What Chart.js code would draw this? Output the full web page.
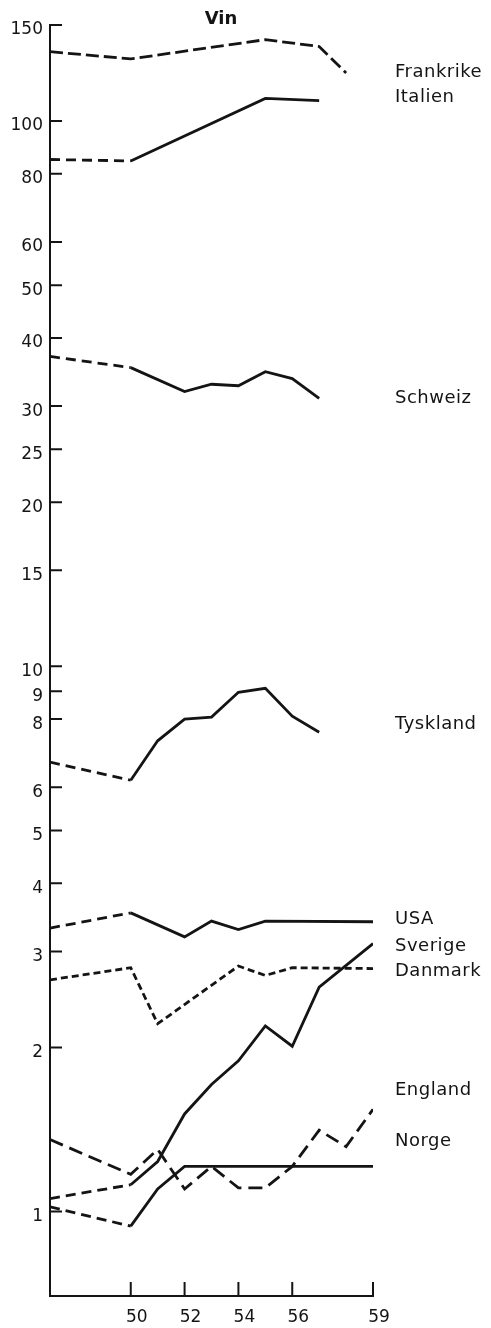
<!DOCTYPE html>
<html>
<head>
<meta charset="utf-8">
<script src="https://cdn.jsdelivr.net/npm/chart.js@4"></script>
<style>
  html, body { margin: 0; padding: 0; background: #fff; }
  #wrap { width: 491px; height: 1328px; position: relative; }
</style>
</head>
<body>
<div id="wrap"><canvas id="vin"></canvas></div>
<script>
// years 1947 .. 1959, null = no vertex read for that year
var years = [1947, 1948, 1949, 1950, 1951, 1952, 1953, 1954, 1955, 1956, 1957, 1958, 1959];

var frankrike = [134, null, null, 130, null, null, null, null, 141, null, 137, 122.5, null];
var italien   = [85, null, null, 84.5, null, null, null, null, 110, null, 109, null, null];
var schweiz   = [37, null, null, 35.3, null, 31.9, 32.9, 32.7, 34.7, 33.7, 31, null, null];
var tyskland  = [6.67, null, null, 6.18, 7.3, 8.0, 8.07, 8.96, 9.11, 8.1, 7.57, null, null];
var usa       = [3.31, null, null, 3.53, null, 3.19, 3.41, 3.29, 3.41, null, null, null, 3.40];
var sverige   = [1.056, null, null, 1.12, 1.235, 1.51, 1.71, 1.89, 2.19, 2.01, 2.58, null, 3.10];
var danmark   = [2.66, null, null, 2.80, 2.21, null, null, 2.82, 2.71, 2.80, null, null, 2.79];
var england   = [1.355, null, null, 1.17, 1.30, 1.10, 1.21, 1.105, 1.105, 1.21, 1.41, 1.315, 1.54];
var norge     = [1.02, null, null, 0.94, 1.10, 1.21, null, null, null, null, null, null, 1.21];

var names   = ["Frankrike", "Italien", "Schweiz", "Tyskland", "USA", "Sverige", "Danmark", "England", "Norge"];
var labelAt = [123, 110.6, 31, 7.83, 3.44, 3.07, 2.76, 1.666, 1.344];

var yTicks = [1, 2, 3, 4, 5, 6, 8, 9, 10, 15, 20, 25, 30, 40, 50, 60, 80, 100, 150];
var xTicks = [1950, 1952, 1954, 1956, 1959];

var ink = "#141414";

function points(vals) {
	return years.map(function (yr, i) { return { x: yr, y: vals[i] }; })
		.filter(function (p) { return p.y !== null; });
}

// dashTo: segments ending at or before this year are dashed
function series(label, vals, dash, dashTo) {
	return {
		label: label,
		data: points(vals),
		borderColor: ink,
		borderWidth: 2.8,
		pointRadius: 0,
		tension: 0,
		fill: false,
		segment: {
			borderDash: function (c) { return c.p1.parsed.x <= dashTo ? dash : undefined; }
		}
	};
}

var textBits = {
	id: "textBits",
	afterDraw: function (chart) {
		var ctx = chart.ctx, area = chart.chartArea;
		var xs = chart.scales.x, ys = chart.scales.y;
		ctx.save();
		ctx.strokeStyle = ink;
		ctx.lineWidth = 2;
		ctx.beginPath();
		ys.ticks.forEach(function (t) {
			var py = ys.getPixelForValue(t.value);
			ctx.moveTo(area.left, py);
			ctx.lineTo(area.left + 12, py);
		});
		xs.ticks.forEach(function (t) {
			var px = xs.getPixelForValue(t.value);
			ctx.moveTo(px, area.bottom);
			ctx.lineTo(px, area.bottom - 14);
		});
		ctx.stroke();

		ctx.fillStyle = ink;
		ctx.textBaseline = "middle";
		ctx.textAlign = "left";
		ctx.font = '18px "DejaVu Sans"';
		ctx.letterSpacing = "0.5px";
		names.forEach(function (n, i) {
			ctx.fillText(n, area.right + 22, ys.getPixelForValue(labelAt[i]));
		});

		ctx.letterSpacing = "0px";
		ctx.textAlign = "center";
		ctx.font = 'bold 18px "DejaVu Sans"';
		ctx.fillText("Vin", 221, 19);
		ctx.restore();
	}
};

new Chart(document.getElementById("vin"), {
	type: "line",
	data: {
		datasets: [
			series("Frankrike", frankrike, [13, 5], 1960),
			series("Italien", italien, [10, 6], 1950),
			series("Schweiz", schweiz, [10, 6], 1950),
			series("Tyskland", tyskland, [10, 6], 1950),
			series("USA", usa, [10, 6], 1950),
			series("Sverige", sverige, [10, 6], 1950),
			series("Danmark", danmark, [7, 4], 1960),
			series("England", england, [14, 7], 1960),
			series("Norge", norge, [10, 6], 1950)
		]
	},
	options: {
		responsive: true,
		maintainAspectRatio: false,
		animation: false,
		layout: { padding: { top: 25, right: 118, left: 0, bottom: 0 } },
		plugins: {
			legend: { display: false },
			tooltip: { enabled: false }
		},
		scales: {
			x: {
				type: "linear",
				min: 1947,
				max: 1959,
				afterBuildTicks: function (s) { s.ticks = xTicks.map(function (v) { return { value: v }; }); },
				afterFit: function (s) { s.height = 32; },
				grid: { display: true, drawOnChartArea: false, drawTicks: false },
				border: { display: true, color: ink, width: 2 },
				ticks: {
					padding: 11,
					labelOffset: 6,
					autoSkip: false,
					maxRotation: 0,
					color: ink,
					font: { family: "DejaVu Sans", size: 17 },
					callback: function (v) { return String(v).slice(2); }
				}
			},
			y: {
				type: "logarithmic",
				min: 0.705,
				max: 150,
				afterBuildTicks: function (s) { s.ticks = yTicks.map(function (v) { return { value: v }; }); },
				afterFit: function (s) { s.width = 50; },
				grid: { display: true, drawOnChartArea: false, drawTicks: false },
				border: { display: true, color: ink, width: 2 },
				ticks: {
					padding: 7,
					labelOffset: 5,
					autoSkip: false,
					color: ink,
					font: { family: "DejaVu Sans", size: 17 },
					callback: function (v) { return String(v); }
				}
			}
		}
	},
	plugins: [textBits]
});
</script>
</body>
</html>
